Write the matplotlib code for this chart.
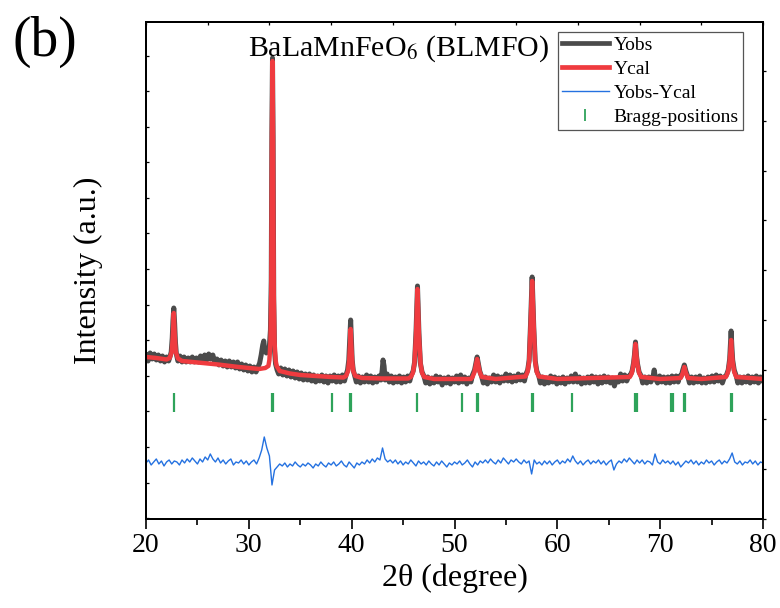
import numpy as np
import matplotlib
matplotlib.use('Agg')
import matplotlib.pyplot as plt
from matplotlib.lines import Line2D

plt.rcParams['font.family'] = ['Liberation Serif', 'DejaVu Serif']
plt.rcParams['mathtext.fontset'] = 'stix'

# calculated profile (Ycal) as (2theta, intensity a.u.)
cal_points = [
    (20, 165), (21, 164), (22, 162.5), (22.3, 164), (22.5, 170), (22.6, 185), (22.7, 209),
    (22.8, 185), (22.9, 170), (23.1, 163.5), (23.5, 161), (25, 159.5), (27, 157.5), (29, 155),
    (31, 153), (31.6, 154), (31.9, 156), (32.0, 162), (32.1, 180), (32.18, 230), (32.24, 380),
    (32.3, 461), (32.36, 380), (32.42, 230), (32.5, 180), (32.6, 162), (32.7, 156), (33.0, 151),
    (34, 148.5), (35, 147), (36.5, 146), (38, 145), (39.2, 144.5), (39.45, 146), (39.65, 151),
    (39.76, 162), (39.84, 178), (39.9, 193), (39.96, 178), (40.04, 162), (40.15, 151), (40.35, 146),
    (41, 144), (43, 143.5), (45.5, 143.5), (45.75, 145), (45.95, 149), (46.1, 158), (46.25, 185),
    (46.4, 233), (46.55, 185), (46.7, 158), (46.85, 149), (47.05, 145), (48, 143), (51.6, 143),
    (51.75, 145), (51.95, 150), (52.08, 157), (52.2, 163), (52.32, 157), (52.45, 150), (52.65, 145),
    (54, 143), (56.9, 145.5), (57.1, 150), (57.25, 160), (57.38, 192), (57.55, 241), (57.72, 192),
    (57.85, 160), (58.0, 150), (58.2, 145.5), (60, 143), (67.05, 145), (67.25, 149), (67.4, 157),
    (67.5, 166), (67.6, 178), (67.7, 166), (67.8, 157), (67.95, 149), (68.15, 145), (70, 143),
    (72.0, 144), (72.2, 149), (72.35, 155), (72.5, 149), (72.7, 144), (74, 143), (76.4, 145),
    (76.6, 150), (76.75, 160), (76.83, 170), (76.9, 182), (76.97, 170), (77.05, 160), (77.2, 150),
    (77.4, 145), (80, 143),
]
x_cal = [p[0] for p in cal_points]
y_cal = [p[1] for p in cal_points]

# observed pattern (Yobs) as (2theta, intensity a.u.)
obs_points = [
    (20.0, 167), (20.2, 161), (20.4, 169), (20.6, 163), (20.8, 168), (21.0, 162), (21.2, 167),
    (21.4, 161), (21.6, 166), (21.8, 160), (22.0, 165), (22.2, 161), (22.35, 166),
    (22.45, 170), (22.55, 184), (22.62, 201), (22.7, 214), (22.78, 199), (22.86, 180), (22.95, 168),
    (23.1, 161), (23.3, 166), (23.5, 160), (23.7, 165), (23.9, 160), (24.1, 164), (24.3, 160),
    (24.5, 165), (24.7, 160), (24.9, 164), (25.1, 160), (25.3, 166), (25.5, 160), (25.7, 167),
    (25.9, 162), (26.1, 168), (26.3, 163), (26.5, 167), (26.7, 159), (26.9, 163), (27.1, 157),
    (27.3, 162), (27.5, 156), (27.7, 161), (27.9, 155), (28.1, 161), (28.3, 155), (28.5, 160),
    (28.7, 154), (28.9, 160), (29.1, 153), (29.3, 158), (29.5, 152), (29.7, 157), (29.9, 151),
    (30.1, 156), (30.3, 150), (30.5, 155), (30.7, 150), (30.9, 155), (31.05, 159),
    (31.2, 167), (31.35, 177), (31.45, 181), (31.55, 172), (31.7, 169), (31.85, 171), (32.0, 176),
    (32.1, 192), (32.18, 242), (32.24, 390), (32.3, 464), (32.36, 382), (32.42, 222), (32.5, 171),
    (32.6, 158), (32.75, 152),
    (32.9, 148), (33.1, 154), (33.3, 147), (33.5, 153), (33.7, 146), (33.9, 152), (34.1, 145),
    (34.3, 151), (34.5, 144), (34.7, 150), (34.9, 143), (35.1, 149), (35.3, 142), (35.5, 148),
    (35.7, 142), (35.9, 148), (36.1, 141), (36.3, 147), (36.5, 140), (36.7, 146), (36.9, 141),
    (37.1, 147), (37.3, 140), (37.5, 146), (37.7, 139), (37.9, 146), (38.1, 141), (38.3, 147),
    (38.5, 140), (38.7, 146), (38.9, 140), (39.1, 147), (39.3, 141), (39.45, 147),
    (39.6, 152), (39.72, 162), (39.82, 183), (39.9, 202), (39.97, 182), (40.05, 162), (40.15, 152),
    (40.3, 146),
    (40.45, 140), (40.65, 146), (40.85, 139), (41.05, 145), (41.25, 140), (41.45, 147), (41.65, 140),
    (41.85, 146), (42.05, 139), (42.25, 145), (42.45, 140), (42.65, 146), (42.85, 142), (42.97, 152),
    (43.05, 162), (43.15, 156), (43.25, 142), (43.45, 148), (43.65, 140), (43.85, 146), (44.05, 139),
    (44.25, 145), (44.45, 140), (44.65, 146), (44.85, 139), (45.05, 145), (45.25, 140), (45.45, 146),
    (45.65, 141),
    (45.8, 147), (45.98, 151), (46.12, 160), (46.26, 191), (46.4, 236), (46.54, 189), (46.68, 159),
    (46.84, 150), (47.02, 146),
    (47.2, 139), (47.4, 145), (47.6, 138), (47.8, 144), (48.0, 139), (48.2, 146), (48.4, 140),
    (48.6, 145), (48.8, 137), (49.0, 144), (49.2, 139), (49.4, 145), (49.6, 138), (49.8, 144),
    (50.0, 140), (50.2, 146), (50.4, 139), (50.6, 147), (50.8, 140), (51.0, 145), (51.2, 138),
    (51.4, 144), (51.6, 140),
    (51.75, 147), (51.95, 152), (52.08, 159), (52.2, 165), (52.32, 158), (52.45, 151), (52.65, 145),
    (52.8, 139), (53.0, 145), (53.2, 138), (53.4, 144), (53.6, 140), (53.8, 147), (54.0, 140),
    (54.2, 146), (54.4, 139), (54.6, 145), (54.8, 141), (55.0, 148), (55.2, 141), (55.4, 147),
    (55.6, 140), (55.8, 146), (56.0, 141), (56.2, 148), (56.4, 142), (56.6, 147), (56.8, 141),
    (56.95, 148), (57.12, 152), (57.26, 162), (57.39, 197), (57.55, 245), (57.71, 194), (57.85, 161),
    (58.0, 151), (58.2, 146),
    (58.35, 139), (58.55, 145), (58.75, 138), (58.95, 144), (59.15, 139), (59.35, 146), (59.55, 140),
    (59.75, 145), (59.95, 138), (60.15, 144), (60.35, 139), (60.55, 145), (60.75, 138), (60.95, 144),
    (61.15, 140), (61.35, 146), (61.55, 140), (61.75, 148), (61.95, 140), (62.15, 145), (62.35, 138),
    (62.55, 144), (62.75, 139), (62.95, 145), (63.15, 139), (63.35, 146), (63.55, 140), (63.75, 145),
    (63.95, 138), (64.15, 145), (64.35, 139), (64.55, 146), (64.75, 140), (64.95, 145), (65.15, 139),
    (65.35, 144), (65.55, 136), (65.75, 143), (65.95, 140), (66.15, 148), (66.35, 141), (66.55, 147),
    (66.75, 141), (66.95, 146),
    (67.1, 147), (67.27, 151), (67.41, 159), (67.5, 167), (67.6, 180), (67.7, 166), (67.8, 158),
    (67.95, 150), (68.15, 146),
    (68.3, 139), (68.5, 145), (68.7, 139), (68.9, 145), (69.1, 140), (69.3, 145), (69.42, 152),
    (69.55, 143), (69.75, 139), (69.95, 146), (70.15, 140), (70.35, 145), (70.55, 139), (70.75, 145),
    (70.95, 139), (71.15, 146), (71.35, 140), (71.55, 146), (71.75, 140), (71.9, 146),
    (72.05, 146), (72.2, 152), (72.35, 157), (72.5, 151), (72.7, 145),
    (72.85, 139), (73.05, 145), (73.25, 139), (73.45, 145), (73.65, 140), (73.85, 146), (74.05, 139),
    (74.25, 144), (74.45, 139), (74.65, 145), (74.85, 140), (75.05, 146), (75.25, 140), (75.45, 147),
    (75.65, 141), (75.85, 146), (76.05, 139), (76.25, 145),
    (76.45, 147), (76.62, 152), (76.76, 163), (76.84, 178), (76.9, 191), (76.97, 176), (77.05, 162),
    (77.2, 152), (77.4, 146),
    (77.55, 139), (77.75, 145), (77.95, 139), (78.15, 145), (78.35, 140), (78.55, 146), (78.75, 139),
    (78.95, 145), (79.15, 140), (79.35, 146), (79.55, 139), (79.75, 145), (79.9, 141), (80.0, 144),
]
x_obs = [p[0] for p in obs_points]
y_obs = [p[1] for p in obs_points]

# difference curve (Yobs-Ycal, shifted down), one value every 0.25 degree from 20 to 80
diff_step = 0.25
y_diff = [
    59, 62, 57, 60, 63, 58, 61, 56, 60, 62, 58, 61,
    60, 57, 62, 59, 63, 60, 64, 61, 58, 63, 60, 65,
    62, 68, 63, 60, 64, 59, 62, 58, 61, 63, 57, 60,
    59, 62, 58, 61, 57, 60, 62, 58, 64, 72, 85, 74,
    66, 37, 52, 55, 58, 56, 59, 55, 58, 56, 60, 57,
    55, 58, 56, 59, 57, 54, 58, 56, 60, 57, 55, 59,
    57, 60, 56, 58, 61, 57, 55, 60, 57, 54, 59, 57,
    60, 58, 62, 59, 63, 60, 64, 62, 74, 63, 60, 62,
    59, 62, 58, 61, 57, 60, 58, 62, 59, 56, 61, 58,
    60, 57, 61, 58, 56, 60, 57, 61, 58, 55, 59, 57,
    60, 58, 61, 57, 59, 62, 58, 55, 60, 57, 61, 59,
    62, 59, 63, 60, 58, 62, 59, 64, 61, 58, 62, 60,
    63, 60, 58, 62, 59, 61, 48, 62, 58, 60, 57, 61,
    58, 61, 57, 60, 62, 58, 61, 59, 63, 60, 66, 61,
    58, 61, 57, 60, 62, 58, 61, 59, 62, 58, 61, 57,
    60, 62, 52, 58, 61, 59, 63, 60, 64, 61, 58, 62,
    59, 62, 58, 61, 60, 57, 68, 60, 58, 62, 59, 61,
    58, 61, 57, 60, 55, 58, 61, 59, 62, 58, 61, 57,
    60, 58, 62, 59, 61, 57, 60, 62, 58, 61, 59, 63,
    69, 60, 58, 61, 57, 60, 59, 62, 58, 61, 57, 60,
    59,
]
x_diff = 20 + diff_step * np.arange(len(y_diff))

# Bragg reflection positions
bragg_pos = [22.7, 32.3, 32.38, 38.1, 39.88, 39.98, 46.37, 50.72, 52.18, 52.28,
             57.5, 57.62, 61.47, 67.55, 67.7, 71.1, 71.25, 72.3, 72.45, 76.88, 77.0]

GREY = '#4b4b4b'
RED = '#ef3b3f'
BLUE = '#2471e0'
GREEN = '#2ea35a'

fig = plt.figure(figsize=(7.8, 6.08), dpi=100)
ax = fig.add_axes([0.1872, 0.1456, 0.791, 0.8182])

ax.plot(x_obs, y_obs, color=GREY, lw=3.6, solid_joinstyle='round', zorder=2)
ax.plot(x_cal, y_cal, color=RED, lw=3.2, zorder=3)
ax.plot(x_diff, y_diff, color=BLUE, lw=1.0, zorder=2)
ax.vlines(bragg_pos, 110, 129, color=GREEN, lw=1.6, zorder=2)

ax.set_xlim(20, 80)
ax.set_ylim(2.5, 500)
ax.set_xticks(np.arange(20, 81, 10))
ax.set_xticks(np.arange(25, 80, 10), minor=True)
ax.tick_params(axis='x', which='major', direction='out', length=7, width=1.2,
               labelsize=20, pad=3)
ax.tick_params(axis='x', which='minor', direction='out', length=4, width=1.2)
ax.set_yticks(np.arange(3.7, 500, 35.6))
ax.tick_params(axis='y', direction='in', length=2.5, width=0.9, labelleft=False)
for sp in ax.spines.values():
    sp.set_linewidth(1.3)

# extra frame ticks on the right and top like the original layer
ax_r = ax.twinx()
ax_r.set_ylim(ax.get_ylim())
ax_r.set_yticks(np.arange(3, 500, 49.75))
ax_r.tick_params(axis='y', direction='out', length=2.5, width=0.9, labelright=False)
ax_t = ax.twiny()
ax_t.set_xlim(ax.get_xlim())
ax_t.set_xticks(np.arange(20, 81, 6))
ax_t.tick_params(axis='x', direction='in', length=2.5, width=0.9, labeltop=False)
for a in (ax_r, ax_t):
    for sp in a.spines.values():
        sp.set_linewidth(1.3)

ax.set_xlabel('2θ (degree)', fontsize=23, labelpad=4)
ax.set_ylabel('Intensity (a.u.)', fontsize=23)
ax.yaxis.set_label_coords(-0.07, 0.5)

ax.text(0.165, 0.932, 'BaLaMnFeO$_6$ (BLMFO)', transform=ax.transAxes,
        fontsize=21.5, va='baseline', ha='left')
fig.text(0.0154, 0.908, '(b)', fontsize=40, va='baseline', ha='left')

handles = [
    Line2D([], [], color=GREY, lw=3.4),
    Line2D([], [], color=RED, lw=3.4),
    Line2D([], [], color=BLUE, lw=1.0),
    Line2D([], [], color=GREEN, marker='|', ls='none', ms=9, mew=1.3),
]
labels = ['Yobs', 'Ycal', 'Yobs-Ycal', 'Bragg-positions']
leg = ax.legend(handles, labels, loc='upper right', bbox_to_anchor=(0.967, 0.979),
                borderaxespad=0, fontsize=14, handlelength=2.4, handletextpad=0.25,
                labelspacing=0.33, borderpad=0.2, fancybox=False, framealpha=1)
leg.get_frame().set_edgecolor('#555555')
leg.get_frame().set_linewidth(0.9)
leg.set_zorder(5)

fig.savefig('out.png', dpi=100)
